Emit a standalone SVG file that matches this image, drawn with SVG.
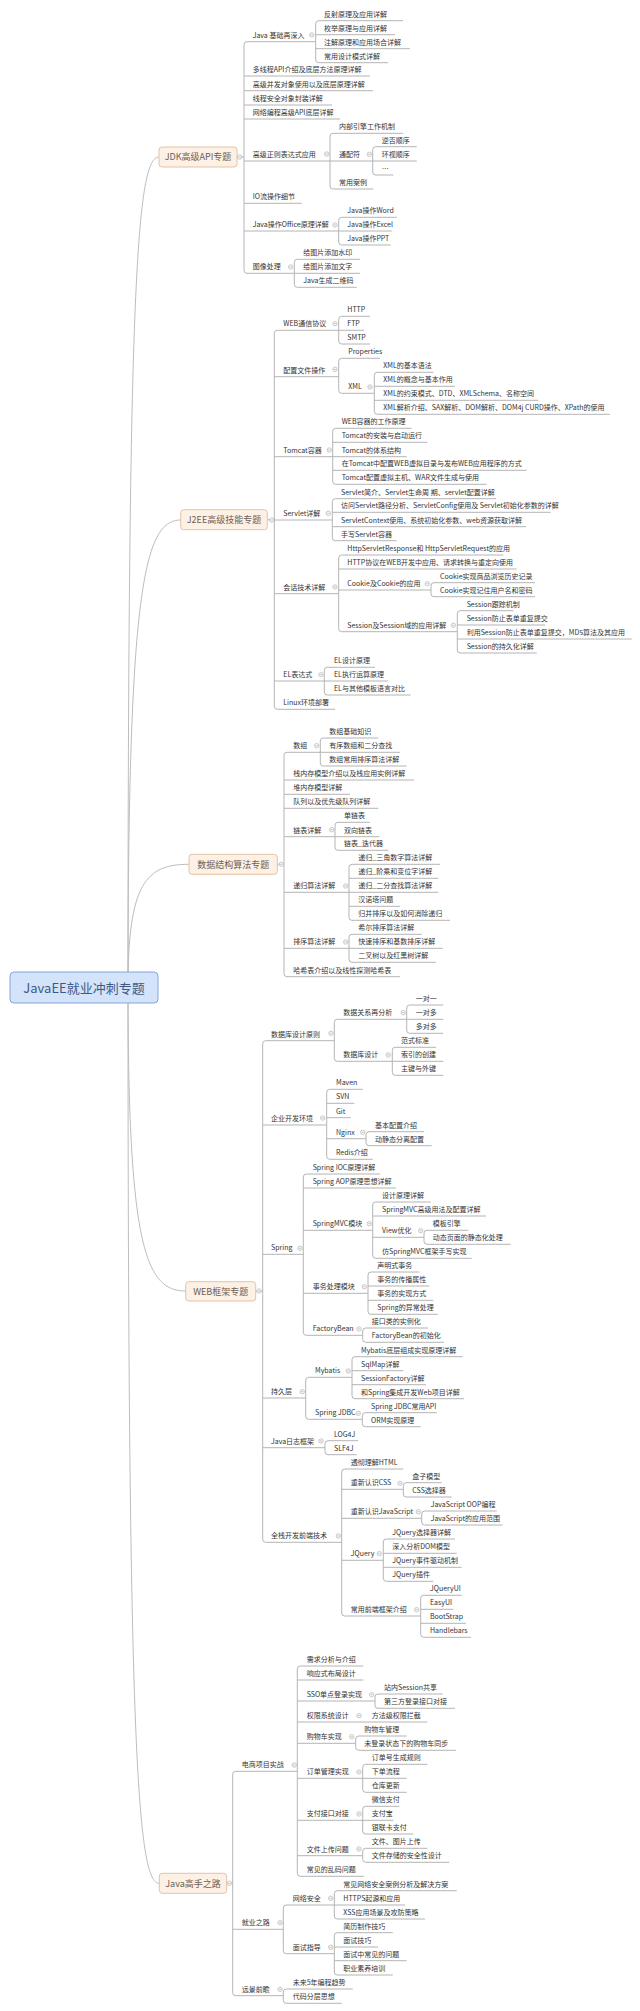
<svg xmlns="http://www.w3.org/2000/svg" xmlns:xlink="http://www.w3.org/1999/xlink" width="640" height="2011" viewBox="0 0 640 2011">
<style>
.t{font-family:"Noto Sans CJK SC","Liberation Sans",sans-serif;font-size:7px;fill:#333}
.tp{font-family:"Noto Sans CJK SC","Liberation Sans",sans-serif;font-size:9px;fill:#6d5f55;text-anchor:middle}
.rt{font-family:"Noto Sans CJK SC","Liberation Sans",sans-serif;font-size:13px;fill:#3d5a86;text-anchor:middle}
.l{fill:none;stroke:#b4b4b4;stroke-width:1}
.cv{fill:none;stroke:#bdbdbd;stroke-width:1}
.bx{fill:#fdf0e4;stroke:#e4c3a6;stroke-width:1}
.rb{fill:#d3e3fa;stroke:#86a6da;stroke-width:1}
</style>
<defs>
<g id="m"><circle r="2.2" fill="#fff" stroke="#b0b0b0" stroke-width="0.7"/><path d="M-1.2 0H1.2" stroke="#999" stroke-width="0.6"/></g>
</defs>
<rect width="640" height="2011" fill="#fff"/>
<g id="connectors">
<path class="cv" d="M128 987C128 281 137 157 159 157"/>
<path class="cv" d="M128 987C128 590 144 520 180.7 520"/>
<path class="cv" d="M128 987C128 882.7 146.3 864.3 189 864.3"/>
<path class="cv" d="M128 987C128 1245.4 145.3 1291 185.7 1291"/>
<path class="cv" d="M128 987C128 1749 137.4 1883.3 159.3 1883.3"/>
<path class="l" d="M315.7 41.7H247Q244 41.7 244 44.7V270.3Q244 273.3 247 273.3H294.3M244 76H370M244 90.7H373M244 105H332M244 119H340M244 161H330M244 203.3H301.7M244 231H338.7M237 157H244"/>
<path class="l" d="M403 20.7H318.7Q315.7 20.7 315.7 23.7V59.7Q315.7 62.7 318.7 62.7H388M315.7 34.7H395M315.7 48.7H410"/>
<path class="l" d="M403 133.3H333Q330 133.3 330 136.3V186Q330 189 333 189H373.3M330 161H372.7"/>
<path class="l" d="M416.7 146.7H375.7Q372.7 146.7 372.7 149.7V172Q372.7 175 375.7 175H393.3M372.7 161H416.7"/>
<path class="l" d="M396.7 217.3H341.7Q338.7 217.3 338.7 220.3V242Q338.7 245 341.7 245H390.7M338.7 231H391.7"/>
<path class="l" d="M360 259.3H297.3Q294.3 259.3 294.3 262.3V284.3Q294.3 287.3 297.3 287.3H356.7M294.3 273.3H360"/>
<path class="l" d="M338.7 330.3H277.3Q274.3 330.3 274.3 333.3V706.3Q274.3 709.3 277.3 709.3H335M274.3 376.7H338.7M274.3 456.7H332.7M274.3 520H332.3M274.3 593.7H338.7M274.3 681H324.3M267.3 519.7H274.3"/>
<path class="l" d="M370 316.3H341.7Q338.7 316.3 338.7 319.3V341Q338.7 344 341.7 344H370M338.7 330.3H364"/>
<path class="l" d="M380 358.3H341.7Q338.7 358.3 338.7 361.3V390.3Q338.7 393.3 341.7 393.3H374.3"/>
<path class="l" d="M433.3 372.3H377.3Q374.3 372.3 374.3 375.3V411.3Q374.3 414.3 377.3 414.3H610M374.3 386.3H455M374.3 400.3H538.3"/>
<path class="l" d="M411.7 428.3H335.7Q332.7 428.3 332.7 431.3V481.3Q332.7 484.3 335.7 484.3H486.7M332.7 442.3H427.3M332.7 456.7H406.7M332.7 470.3H526.7"/>
<path class="l" d="M496 498.7H335.3Q332.3 498.7 332.3 501.7V537.7Q332.3 540.7 335.3 540.7H396.7M332.3 512.3H550.7M332.3 526.7H526"/>
<path class="l" d="M503.3 555H341.7Q338.7 555 338.7 558V628.7Q338.7 631.7 341.7 631.7H457.3M338.7 569H516.7M338.7 590H431"/>
<path class="l" d="M535 582.7H434Q431 582.7 431 585.7V593.7Q431 596.7 434 596.7H535"/>
<path class="l" d="M513.3 610.7H460.3Q457.3 610.7 457.3 613.7V650Q457.3 653 460.3 653H536.7M457.3 625H545M457.3 639H631.7"/>
<path class="l" d="M375 667.3H327.3Q324.3 667.3 324.3 670.3V692Q324.3 695 327.3 695H410.7M324.3 681H388.3"/>
<path class="l" d="M320.3 752.3H287Q284 752.3 284 755.3V973.7Q284 976.7 287 976.7H400M284 780H414M284 794.3H350M284 808.3H378.3M284 836.7H335M284 892.3H349M284 948.3H349M277.3 864.3H284"/>
<path class="l" d="M378.3 738H323.3Q320.3 738 320.3 741V763Q320.3 766 323.3 766H406.7M320.3 752.3H400"/>
<path class="l" d="M370 822.3H338Q335 822.3 335 825.3V847.3Q335 850.3 338 850.3H388.3M335 836.7H379.3"/>
<path class="l" d="M440 864.3H352Q349 864.3 349 867.3V917.3Q349 920.3 352 920.3H450M349 878.3H438.3M349 892.3H438.3M349 906.3H400"/>
<path class="l" d="M421.7 934.3H352Q349 934.3 349 937.3V959.3Q349 962.3 352 962.3H436M349 948.3H442.7"/>
<path class="l" d="M334.3 1040.7H265.7Q262.7 1040.7 262.7 1043.7V1539.3Q262.7 1542.3 265.7 1542.3H341.7M262.7 1125H326.7M262.7 1254.3H303.3M262.7 1398H305.7M262.7 1447.7H325M255.7 1291.3H262.7"/>
<path class="l" d="M406.7 1019.3H337.3Q334.3 1019.3 334.3 1022.3V1058.3Q334.3 1061.3 337.3 1061.3H392.3"/>
<path class="l" d="M443.3 1005H409.7Q406.7 1005 406.7 1008V1030.3Q406.7 1033.3 409.7 1033.3H443.3M406.7 1019.3H443.3"/>
<path class="l" d="M436 1047.3H395.3Q392.3 1047.3 392.3 1050.3V1072.3Q392.3 1075.3 395.3 1075.3H443.3M392.3 1061.3H443.3"/>
<path class="l" d="M362.7 1089.3H329.7Q326.7 1089.3 326.7 1092.3V1156.3Q326.7 1159.3 329.7 1159.3H372.7M326.7 1103.3H354.3M326.7 1117.7H350.7M326.7 1138.7H366"/>
<path class="l" d="M424 1131.7H369Q366 1131.7 366 1134.7V1142.7Q366 1145.7 369 1145.7H431.7"/>
<path class="l" d="M380 1174H306.3Q303.3 1174 303.3 1177V1332.3Q303.3 1335.3 306.3 1335.3H362.7M303.3 1188H396M303.3 1230.3H372.7M303.3 1293.3H368"/>
<path class="l" d="M430.7 1202H375.7Q372.7 1202 372.7 1205V1255.3Q372.7 1258.3 375.7 1258.3H471.7M372.7 1216H486M372.7 1237.3H424"/>
<path class="l" d="M468.3 1230.3H427Q424 1230.3 424 1233.3V1241.3Q424 1244.3 427 1244.3H510.7"/>
<path class="l" d="M419.3 1272H371Q368 1272 368 1275V1311.3Q368 1314.3 371 1314.3H437.7M368 1286H429.3M368 1300.3H433.3"/>
<path class="l" d="M428.3 1328H365.7Q362.7 1328 362.7 1331V1339.3Q362.7 1342.3 365.7 1342.3H444"/>
<path class="l" d="M352 1377.3H308.7Q305.7 1377.3 305.7 1380.3V1416.3Q305.7 1419.3 308.7 1419.3H362.3"/>
<path class="l" d="M462.7 1356.7H355Q352 1356.7 352 1359.7V1395.7Q352 1398.7 355 1398.7H464M352 1370.7H403.3M352 1384.7H426"/>
<path class="l" d="M436.7 1412.7H365.3Q362.3 1412.7 362.3 1415.7V1423.7Q362.3 1426.7 365.3 1426.7H420.7"/>
<path class="l" d="M358.3 1440.7H328Q325 1440.7 325 1443.7V1451.7Q325 1454.7 328 1454.7H356.7"/>
<path class="l" d="M403.3 1469H344.7Q341.7 1469 341.7 1472V1613Q341.7 1616 344.7 1616H420.7M341.7 1489.3H403.3M341.7 1518.3H421.7M341.7 1560.3H383.3"/>
<path class="l" d="M441.7 1482.7H406.3Q403.3 1482.7 403.3 1485.7V1494Q403.3 1497 406.3 1497H451.7"/>
<path class="l" d="M496.7 1511H424.7Q421.7 1511 421.7 1514V1522Q421.7 1525 424.7 1525H502.7"/>
<path class="l" d="M455 1539H386.3Q383.3 1539 383.3 1542V1578.3Q383.3 1581.3 386.3 1581.3H433.3M383.3 1553.3H456.7M383.3 1567.3H461.7"/>
<path class="l" d="M461.7 1595.3H423.7Q420.7 1595.3 420.7 1598.3V1634.3Q420.7 1637.3 423.7 1637.3H471M420.7 1609.3H453.3M420.7 1623.3H466"/>
<path class="l" d="M297.3 1771.3H235.7Q232.7 1771.3 232.7 1774.3V1992.7Q232.7 1995.7 235.7 1995.7H283.3M232.7 1929.3H283.3M226.7 1883.3H232.7"/>
<path class="l" d="M363.3 1666H300.3Q297.3 1666 297.3 1669V1873.3Q297.3 1876.3 300.3 1876.3H364M297.3 1680H363.3M297.3 1701H375M297.3 1722H427.3M297.3 1743.3H355.7M297.3 1778.3H362.7M297.3 1820.3H362.7M297.3 1855.7H362.7"/>
<path class="l" d="M442.7 1694H378Q375 1694 375 1697V1705.3Q375 1708.3 378 1708.3H455"/>
<path class="l" d="M406.7 1736H358.7Q355.7 1736 355.7 1739V1747.3Q355.7 1750.3 358.7 1750.3H456"/>
<path class="l" d="M427.3 1764.3H365.7Q362.7 1764.3 362.7 1767.3V1789.3Q362.7 1792.3 365.7 1792.3H406.7M362.7 1778.3H406.7"/>
<path class="l" d="M399.3 1806.3H365.7Q362.7 1806.3 362.7 1809.3V1831Q362.7 1834 365.7 1834H413.3M362.7 1820.3H393.3"/>
<path class="l" d="M427.3 1848.3H365.7Q362.7 1848.3 362.7 1851.3V1859.3Q362.7 1862.3 365.7 1862.3H449.3"/>
<path class="l" d="M334.3 1905H286.3Q283.3 1905 283.3 1908V1950.7Q283.3 1953.7 286.3 1953.7H334.3"/>
<path class="l" d="M456.7 1890.7H337.3Q334.3 1890.7 334.3 1893.7V1916Q334.3 1919 337.3 1919H425M334.3 1905H405"/>
<path class="l" d="M392.7 1932.7H337.3Q334.3 1932.7 334.3 1935.7V1972Q334.3 1975 337.3 1975H392.7M334.3 1947H378.3M334.3 1960.7H406.7"/>
<path class="l" d="M352.7 1989H286.3Q283.3 1989 283.3 1992V2000.3Q283.3 2003.3 286.3 2003.3H341.7"/>
</g>
<g id="collapse">
<use href="#m" x="239.5" y="157"/><use href="#m" x="311.7" y="35"/><use href="#m" x="326.7" y="154"/><use href="#m" x="369.3" y="154.3"/><use href="#m" x="335" y="225"/><use href="#m" x="290.7" y="267"/>
<use href="#m" x="271.7" y="520"/><use href="#m" x="335" y="323.7"/><use href="#m" x="335" y="369.3"/><use href="#m" x="370" y="387"/><use href="#m" x="329.3" y="450"/><use href="#m" x="328.3" y="513.3"/><use href="#m" x="335" y="587"/><use href="#m" x="427.3" y="583.7"/><use href="#m" x="453.3" y="625.3"/><use href="#m" x="321" y="674.7"/>
<use href="#m" x="281.3" y="864.3"/><use href="#m" x="316.7" y="745.7"/><use href="#m" x="331.7" y="829.7"/><use href="#m" x="345.7" y="886"/><use href="#m" x="345.7" y="942"/>
<use href="#m" x="259" y="1291"/><use href="#m" x="331" y="1033.3"/><use href="#m" x="403.3" y="1012.7"/><use href="#m" x="388.3" y="1055"/><use href="#m" x="322.7" y="1118"/><use href="#m" x="362.7" y="1132.3"/><use href="#m" x="300" y="1248.3"/><use href="#m" x="369.3" y="1223.7"/><use href="#m" x="420.7" y="1230.7"/><use href="#m" x="364.3" y="1286.7"/><use href="#m" x="359" y="1329"/><use href="#m" x="302.3" y="1391.7"/><use href="#m" x="348.3" y="1371"/><use href="#m" x="358.3" y="1413.3"/><use href="#m" x="321" y="1441"/><use href="#m" x="338.3" y="1536"/><use href="#m" x="400" y="1483.3"/><use href="#m" x="418.3" y="1511.7"/><use href="#m" x="379.3" y="1553.7"/><use href="#m" x="416.7" y="1609.7"/>
<use href="#m" x="229.3" y="1883.3"/><use href="#m" x="294.3" y="1765"/><use href="#m" x="371.7" y="1694.7"/><use href="#m" x="359" y="1715.7"/><use href="#m" x="351.7" y="1736.7"/><use href="#m" x="359" y="1772"/><use href="#m" x="359" y="1814"/><use href="#m" x="359" y="1849"/><use href="#m" x="280" y="1922.7"/><use href="#m" x="330.7" y="1898.3"/><use href="#m" x="330.7" y="1947.3"/><use href="#m" x="280" y="1989.3"/>
</g>
<g id="root"><rect class="rb" x="10" y="972" width="148" height="31" rx="4"/><text class="rt" x="84" y="992.5">JavaEE就业冲刺专题</text></g>
<g id="topic-jdk"><rect class="bx" x="159" y="147" width="78" height="20" rx="3"/><text class="tp" x="198" y="160.2">JDK高级API专题</text></g>
<g id="topic-j2ee"><rect class="bx" x="180.7" y="509.7" width="86.6" height="20" rx="3"/><text class="tp" x="224" y="522.9">J2EE高级技能专题</text></g>
<g id="topic-ds"><rect class="bx" x="189" y="854.3" width="88.3" height="20" rx="3"/><text class="tp" x="233.2" y="867.5">数据结构算法专题</text></g>
<g id="topic-web"><rect class="bx" x="185.7" y="1281.7" width="70" height="19.3" rx="3"/><text class="tp" x="220.7" y="1294.6">WEB框架专题</text></g>
<g id="topic-master"><rect class="bx" x="159.3" y="1873.3" width="67.4" height="20" rx="3"/><text class="tp" x="193" y="1886.5">Java高手之路</text></g>
<g id="n1"><text class="t" x="252.7" y="37.7">Java 基础再深入</text></g>
<g id="n1a"><text class="t" x="324" y="16.7">反射原理及应用详解</text></g>
<g id="n1b"><text class="t" x="324" y="30.7">枚举原理与应用详解</text></g>
<g id="n1c"><text class="t" x="324" y="44.7">注解原理和应用场合详解</text></g>
<g id="n1d"><text class="t" x="324" y="58.7">常用设计模式详解</text></g>
<g id="n2"><text class="t" x="252.7" y="72">多线程API介绍及底层方法原理详解</text></g>
<g id="n3"><text class="t" x="252.7" y="86.7">高级并发对象使用以及底层原理详解</text></g>
<g id="n4"><text class="t" x="252.7" y="101">线程安全对象封装详解</text></g>
<g id="n5"><text class="t" x="252.7" y="115">网络编程高级API底层详解</text></g>
<g id="n6"><text class="t" x="252.7" y="157">高级正则表达式应用</text></g>
<g id="n6a"><text class="t" x="339" y="129.3">内部引擎工作机制</text></g>
<g id="n6b"><text class="t" x="339" y="157">通配符</text></g>
<g id="n6b1"><text class="t" x="381.7" y="142.7">逆否顺序</text></g>
<g id="n6b2"><text class="t" x="381.7" y="157">环视顺序</text></g>
<g id="n6b3"><text class="t" x="381.7" y="171">…</text></g>
<g id="n6c"><text class="t" x="339" y="185">常用案例</text></g>
<g id="n7"><text class="t" x="252.7" y="199.3">IO流操作细节</text></g>
<g id="n8"><text class="t" x="252.7" y="227">Java操作Office原理详解</text></g>
<g id="n8a"><text class="t" x="347.3" y="213.3">Java操作Word</text></g>
<g id="n8b"><text class="t" x="347.3" y="227">Java操作Excel</text></g>
<g id="n8c"><text class="t" x="347.3" y="241">Java操作PPT</text></g>
<g id="n9"><text class="t" x="252.7" y="269.3">图像处理</text></g>
<g id="n9a"><text class="t" x="303.3" y="255.3">给图片添加水印</text></g>
<g id="n9b"><text class="t" x="303.3" y="269.3">给图片添加文字</text></g>
<g id="n9c"><text class="t" x="303.3" y="283.3">Java生成二维码</text></g>
<g id="m1"><text class="t" x="283.3" y="326.3">WEB通信协议</text></g>
<g id="m1a"><text class="t" x="347.3" y="312.3">HTTP</text></g>
<g id="m1b"><text class="t" x="347.3" y="326.3">FTP</text></g>
<g id="m1c"><text class="t" x="347.3" y="340">SMTP</text></g>
<g id="m2"><text class="t" x="283.3" y="372.7">配置文件操作</text></g>
<g id="m2a"><text class="t" x="348.3" y="354.3">Properties</text></g>
<g id="m2b"><text class="t" x="348.3" y="389.3">XML</text></g>
<g id="m2b1"><text class="t" x="383.3" y="368.3">XML的基本语法</text></g>
<g id="m2b2"><text class="t" x="383.3" y="382.3">XML的概念与基本作用</text></g>
<g id="m2b3"><text class="t" x="383.3" y="396.3">XML的约束模式、DTD、XMLSchema、名称空间</text></g>
<g id="m2b4"><text class="t" x="383.3" y="410.3">XML解析介绍、SAX解析、DOM解析、DOM4j CURD操作、XPath的使用</text></g>
<g id="m3"><text class="t" x="283.3" y="452.7">Tomcat容器</text></g>
<g id="m3a"><text class="t" x="341.7" y="424.3">WEB容器的工作原理</text></g>
<g id="m3b"><text class="t" x="341.7" y="438.3">Tomcat的安装与启动运行</text></g>
<g id="m3c"><text class="t" x="341.7" y="452.7">Tomcat的体系结构</text></g>
<g id="m3d"><text class="t" x="341.7" y="466.3">在Tomcat中配置WEB虚拟目录与发布WEB应用程序的方式</text></g>
<g id="m3e"><text class="t" x="341.7" y="480.3">Tomcat配置虚拟主机、WAR文件生成与使用</text></g>
<g id="m4"><text class="t" x="283.3" y="516">Servlet详解</text></g>
<g id="m4a"><text class="t" x="341" y="494.7">Servlet简介、Servlet生命周 期、servlet配置详解</text></g>
<g id="m4b"><text class="t" x="341" y="508.3">访问Servlet路径分析、ServletConfig使用及 Servlet初始化参数的详解</text></g>
<g id="m4c"><text class="t" x="341" y="522.7">ServletContext使用、系统初始化参数、web资源获取详解</text></g>
<g id="m4d"><text class="t" x="341" y="536.7">手写Servlet容器</text></g>
<g id="m5"><text class="t" x="283.3" y="589.7">会话技术详解</text></g>
<g id="m5a"><text class="t" x="347.3" y="551">HttpServletResponse和 HttpServletRequest的应用</text></g>
<g id="m5b"><text class="t" x="347.3" y="565">HTTP协议在WEB开发中应用、请求转换与重定向使用</text></g>
<g id="m5c"><text class="t" x="347.3" y="586">Cookie及Cookie的应用</text></g>
<g id="m5c1"><text class="t" x="440" y="578.7">Cookie实现商品浏览历史记录</text></g>
<g id="m5c2"><text class="t" x="440" y="592.7">Cookie实现记住用户名和密码</text></g>
<g id="m5d"><text class="t" x="347.3" y="627.7">Session及Session域的应用详解</text></g>
<g id="m5d1"><text class="t" x="466.7" y="606.7">Session跟踪机制</text></g>
<g id="m5d2"><text class="t" x="466.7" y="621">Session防止表单重复提交</text></g>
<g id="m5d3"><text class="t" x="466.7" y="635">利用Session防止表单重复提交，MD5算法及其应用</text></g>
<g id="m5d4"><text class="t" x="466.7" y="649">Session的持久化详解</text></g>
<g id="m6"><text class="t" x="283.3" y="677">EL表达式</text></g>
<g id="m6a"><text class="t" x="334" y="663.3">EL设计原理</text></g>
<g id="m6b"><text class="t" x="334" y="677">EL执行运算原理</text></g>
<g id="m6c"><text class="t" x="334" y="691">EL与其他模板语言对比</text></g>
<g id="m7"><text class="t" x="283.3" y="705.3">Linux环境部署</text></g>
<g id="d1"><text class="t" x="293.3" y="748.3">数组</text></g>
<g id="d1a"><text class="t" x="329.3" y="734">数组基础知识</text></g>
<g id="d1b"><text class="t" x="329.3" y="748.3">有序数组和二分查找</text></g>
<g id="d1c"><text class="t" x="329.3" y="762">数组常用排序算法详解</text></g>
<g id="d2"><text class="t" x="293.3" y="776">栈内存模型介绍以及栈应用实例详解</text></g>
<g id="d3"><text class="t" x="293.3" y="790.3">堆内存模型详解</text></g>
<g id="d4"><text class="t" x="293.3" y="804.3">队列以及优先级队列详解</text></g>
<g id="d5"><text class="t" x="293.3" y="832.7">链表详解</text></g>
<g id="d5a"><text class="t" x="344" y="818.3">单链表</text></g>
<g id="d5b"><text class="t" x="344" y="832.7">双向链表</text></g>
<g id="d5c"><text class="t" x="344" y="846.3">链表_迭代器</text></g>
<g id="d6"><text class="t" x="293.3" y="888.3">递归算法详解</text></g>
<g id="d6a"><text class="t" x="358.3" y="860.3">递归_三角数字算法详解</text></g>
<g id="d6b"><text class="t" x="358.3" y="874.3">递归_阶乘和变位字详解</text></g>
<g id="d6c"><text class="t" x="358.3" y="888.3">递归_二分查找算法详解</text></g>
<g id="d6d"><text class="t" x="358.3" y="902.3">汉诺塔问题</text></g>
<g id="d6e"><text class="t" x="358.3" y="916.3">归并排序以及如何消除递归</text></g>
<g id="d7"><text class="t" x="293.3" y="944.3">排序算法详解</text></g>
<g id="d7a"><text class="t" x="358.3" y="930.3">希尔排序算法详解</text></g>
<g id="d7b"><text class="t" x="358.3" y="944.3">快速排序和基数排序详解</text></g>
<g id="d7c"><text class="t" x="358.3" y="958.3">二叉树以及红黑树详解</text></g>
<g id="d8"><text class="t" x="293.3" y="972.7">哈希表介绍以及线性探测哈希表</text></g>
<g id="w1"><text class="t" x="271" y="1036.7">数据库设计原则</text></g>
<g id="w1a"><text class="t" x="343.3" y="1015.3">数据关系再分析</text></g>
<g id="w1a1"><text class="t" x="415.7" y="1001">一对一</text></g>
<g id="w1a2"><text class="t" x="415.7" y="1015.3">一对多</text></g>
<g id="w1a3"><text class="t" x="415.7" y="1029.3">多对多</text></g>
<g id="w1b"><text class="t" x="343.3" y="1057.3">数据库设计</text></g>
<g id="w1b1"><text class="t" x="401" y="1043.3">范式标准</text></g>
<g id="w1b2"><text class="t" x="401" y="1057.3">索引的创建</text></g>
<g id="w1b3"><text class="t" x="401" y="1071.3">主键与外键</text></g>
<g id="w2"><text class="t" x="271" y="1121">企业开发环境</text></g>
<g id="w2a"><text class="t" x="336" y="1085.3">Maven</text></g>
<g id="w2b"><text class="t" x="336" y="1099.3">SVN</text></g>
<g id="w2c"><text class="t" x="336" y="1113.7">Git</text></g>
<g id="w2d"><text class="t" x="336" y="1134.7">Nginx</text></g>
<g id="w2d1"><text class="t" x="375" y="1127.7">基本配置介绍</text></g>
<g id="w2d2"><text class="t" x="375" y="1141.7">动静态分离配置</text></g>
<g id="w2e"><text class="t" x="336" y="1155.3">Redis介绍</text></g>
<g id="w3"><text class="t" x="271" y="1250.3">Spring</text></g>
<g id="w3a"><text class="t" x="312.7" y="1170">Spring IOC原理详解</text></g>
<g id="w3b"><text class="t" x="312.7" y="1184">Spring AOP原理思想详解</text></g>
<g id="w3c"><text class="t" x="312.7" y="1226.3">SpringMVC模块</text></g>
<g id="w3c1"><text class="t" x="382" y="1198">设计原理详解</text></g>
<g id="w3c2"><text class="t" x="382" y="1212">SpringMVC高级用法及配置详解</text></g>
<g id="w3c3"><text class="t" x="382" y="1233.3">View优化</text></g>
<g id="w3c3a"><text class="t" x="432.7" y="1226.3">模板引擎</text></g>
<g id="w3c3b"><text class="t" x="432.7" y="1240.3">动态页面的静态化处理</text></g>
<g id="w3c4"><text class="t" x="382" y="1254.3">仿SpringMVC框架手写实现</text></g>
<g id="w3d"><text class="t" x="312.7" y="1289.3">事务处理模块</text></g>
<g id="w3d1"><text class="t" x="377.3" y="1268">声明式事务</text></g>
<g id="w3d2"><text class="t" x="377.3" y="1282">事务的传播属性</text></g>
<g id="w3d3"><text class="t" x="377.3" y="1296.3">事务的实现方式</text></g>
<g id="w3d4"><text class="t" x="377.3" y="1310.3">Spring的异常处理</text></g>
<g id="w3e"><text class="t" x="312.7" y="1331.3">FactoryBean</text></g>
<g id="w3e1"><text class="t" x="371.7" y="1324">接口类的实例化</text></g>
<g id="w3e2"><text class="t" x="371.7" y="1338.3">FactoryBean的初始化</text></g>
<g id="w4"><text class="t" x="271" y="1394">持久层</text></g>
<g id="w4a"><text class="t" x="315" y="1373.3">Mybatis</text></g>
<g id="w4a1"><text class="t" x="361" y="1352.7">Mybatis底层组成实现原理详解</text></g>
<g id="w4a2"><text class="t" x="361" y="1366.7">SqlMap详解</text></g>
<g id="w4a3"><text class="t" x="361" y="1380.7">SessionFactory详解</text></g>
<g id="w4a4"><text class="t" x="361" y="1394.7">和Spring集成开发Web项目详解</text></g>
<g id="w4b"><text class="t" x="315" y="1415.3">Spring JDBC</text></g>
<g id="w4b1"><text class="t" x="371" y="1408.7">Spring JDBC常用API</text></g>
<g id="w4b2"><text class="t" x="371" y="1422.7">ORM实现原理</text></g>
<g id="w5"><text class="t" x="271" y="1443.7">Java日志框架</text></g>
<g id="w5a"><text class="t" x="334" y="1436.7">LOG4J</text></g>
<g id="w5b"><text class="t" x="334" y="1450.7">SLF4J</text></g>
<g id="w6"><text class="t" x="271" y="1538.3">全栈开发前端技术</text></g>
<g id="w6a"><text class="t" x="350.7" y="1465">透彻理解HTML</text></g>
<g id="w6b"><text class="t" x="350.7" y="1485.3">重新认识CSS</text></g>
<g id="w6b1"><text class="t" x="412.3" y="1478.7">盒子模型</text></g>
<g id="w6b2"><text class="t" x="412.3" y="1493">CSS选择器</text></g>
<g id="w6c"><text class="t" x="350.7" y="1514.3">重新认识JavaScript</text></g>
<g id="w6c1"><text class="t" x="430.7" y="1507">JavaScript OOP编程</text></g>
<g id="w6c2"><text class="t" x="430.7" y="1521">JavaScript的应用范围</text></g>
<g id="w6d"><text class="t" x="350.7" y="1556.3">JQuery</text></g>
<g id="w6d1"><text class="t" x="392.3" y="1535">JQuery选择器详解</text></g>
<g id="w6d2"><text class="t" x="392.3" y="1549.3">深入分析DOM模型</text></g>
<g id="w6d3"><text class="t" x="392.3" y="1563.3">JQuery事件驱动机制</text></g>
<g id="w6d4"><text class="t" x="392.3" y="1577.3">JQuery插件</text></g>
<g id="w6e"><text class="t" x="350.7" y="1612">常用前端框架介绍</text></g>
<g id="w6e1"><text class="t" x="430" y="1591.3">JQueryUI</text></g>
<g id="w6e2"><text class="t" x="430" y="1605.3">EasyUI</text></g>
<g id="w6e3"><text class="t" x="430" y="1619.3">BootStrap</text></g>
<g id="w6e4"><text class="t" x="430" y="1633.3">Handlebars</text></g>
<g id="j1"><text class="t" x="241.7" y="1767.3">电商项目实战</text></g>
<g id="j1a"><text class="t" x="306.7" y="1662">需求分析与介绍</text></g>
<g id="j1b"><text class="t" x="306.7" y="1676">响应式布局设计</text></g>
<g id="j1c"><text class="t" x="306.7" y="1697">SSO单点登录实现</text></g>
<g id="j1c1"><text class="t" x="384" y="1690">站内Session共享</text></g>
<g id="j1c2"><text class="t" x="384" y="1704.3">第三方登录接口对接</text></g>
<g id="j1d"><text class="t" x="306.7" y="1718">权限系统设计</text></g>
<g id="j1d1"><text class="t" x="371.7" y="1718">方法级权限拦截</text></g>
<g id="j1e"><text class="t" x="306.7" y="1739.3">购物车实现</text></g>
<g id="j1e1"><text class="t" x="364.3" y="1732">购物车管理</text></g>
<g id="j1e2"><text class="t" x="364.3" y="1746.3">未登录状态下的购物车同步</text></g>
<g id="j1f"><text class="t" x="306.7" y="1774.3">订单管理实现</text></g>
<g id="j1f1"><text class="t" x="371.7" y="1760.3">订单号生成规则</text></g>
<g id="j1f2"><text class="t" x="371.7" y="1774.3">下单流程</text></g>
<g id="j1f3"><text class="t" x="371.7" y="1788.3">仓库更新</text></g>
<g id="j1g"><text class="t" x="306.7" y="1816.3">支付接口对接</text></g>
<g id="j1g1"><text class="t" x="371.7" y="1802.3">微信支付</text></g>
<g id="j1g2"><text class="t" x="371.7" y="1816.3">支付宝</text></g>
<g id="j1g3"><text class="t" x="371.7" y="1830">银联卡支付</text></g>
<g id="j1h"><text class="t" x="306.7" y="1851.7">文件上传问题</text></g>
<g id="j1h1"><text class="t" x="371.7" y="1844.3">文件、图片上传</text></g>
<g id="j1h2"><text class="t" x="371.7" y="1858.3">文件存储的安全性设计</text></g>
<g id="j1i"><text class="t" x="306.7" y="1872.3">常见的乱码问题</text></g>
<g id="j2"><text class="t" x="241.7" y="1925.3">就业之路</text></g>
<g id="j2a"><text class="t" x="292.7" y="1901">网络安全</text></g>
<g id="j2a1"><text class="t" x="343.3" y="1886.7">常见网络安全案例分析及解决方案</text></g>
<g id="j2a2"><text class="t" x="343.3" y="1901">HTTPS起源和应用</text></g>
<g id="j2a3"><text class="t" x="343.3" y="1915">XSS应用场景及攻防策略</text></g>
<g id="j2b"><text class="t" x="292.7" y="1949.7">面试指导</text></g>
<g id="j2b1"><text class="t" x="343.3" y="1928.7">简历制作技巧</text></g>
<g id="j2b2"><text class="t" x="343.3" y="1943">面试技巧</text></g>
<g id="j2b3"><text class="t" x="343.3" y="1956.7">面试中常见的问题</text></g>
<g id="j2b4"><text class="t" x="343.3" y="1971">职业素养培训</text></g>
<g id="j3"><text class="t" x="241.7" y="1991.7">远景前瞻</text></g>
<g id="j3a"><text class="t" x="292.7" y="1985">未来5年编程趋势</text></g>
<g id="j3b"><text class="t" x="292.7" y="1999.3">代码分层思想</text></g>
</svg>
